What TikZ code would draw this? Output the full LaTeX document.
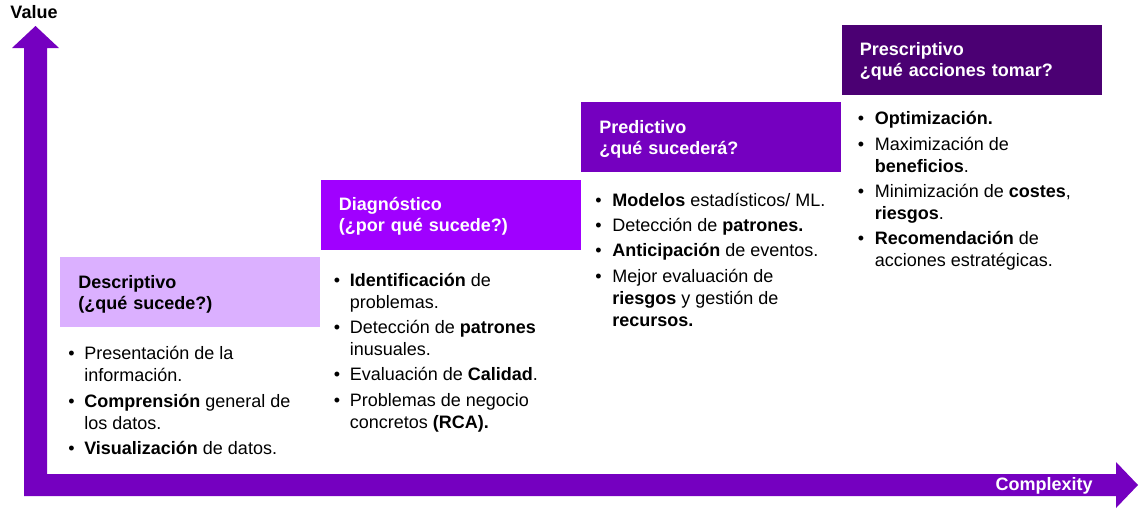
\documentclass[tikz,border=0pt]{standalone}
\usepackage{fontspec}
\setmainfont{Liberation Sans}
\usetikzlibrary{positioning}
\definecolor{axisviolet}{HTML}{7500C0}
\definecolor{stepone}{HTML}{DBB0FF}
\definecolor{steptwo}{HTML}{A000FF}
\definecolor{stepthree}{HTML}{7500C0}
\definecolor{stepfour}{HTML}{4B0073}

\begin{document}
\begin{tikzpicture}[
      x=0.75pt, y=-0.75pt,
      stepbox/.style={minimum height=52.5pt, text width=168pt, inner xsep=13.5pt, inner ysep=0pt, align=left,
        text depth=15.9pt, font=\fontsize{13.5pt}{15.75pt}\selectfont\bfseries},
      itemlist/.style={inner sep=0pt, font=\fontsize{13.5pt}{16.5pt}\selectfont},
      axislabel/.style={inner sep=0pt, font=\fontsize{13.5pt}{15.75pt}\selectfont\bfseries}]
  \useasboundingbox (0,0) rectangle (1148,511);
  \fill[axisviolet] (24,496) -- (24,48) -- (12,48) -- (35.5,26) -- (59,48) -- (47,48) -- (47,474)
    -- (1116,474) -- (1116,462) -- (1138,485) -- (1116,508) -- (1116,496) -- cycle;
  \node[axislabel] (value) at (34,12) {Value};
  \node[axislabel, text=white, anchor=east] (complexity) at (1093,486) {Complexity};

  \node[stepbox, fill=stepone, anchor=north west] (desc) at (60,257) {Descriptivo\\(¿qué sucede?)};
  \node[stepbox, fill=steptwo, text=white, above right=5.25pt and 0pt of desc.north east] (diag)
    {Diagnóstico\\(¿por qué sucede?)};
  \node[stepbox, fill=stepthree, text=white, above right=5.25pt and 0pt of diag.north east] (pred)
    {Predictivo\\¿qué sucederá?};
  \node[stepbox, fill=stepfour, text=white, above right=5.25pt and 0pt of pred.north east] (presc)
    {Prescriptivo\\¿qué acciones tomar?};

  \node[itemlist, below right=12.45pt and 6pt of desc.south west] (desclist) {\begin{tabular}{@{}p{12pt}@{}l@{}}
    \textbullet & Presentación de la\\
                & información.\\[2.5pt]
    \textbullet & \textbf{Comprensión} general de\\
                & los datos.\\[2.5pt]
    \textbullet & \textbf{Visualización} de datos.
  \end{tabular}};
  \node[itemlist, below right=15.45pt and 9.75pt of diag.south west] (diaglist) {\begin{tabular}{@{}p{12pt}@{}l@{}}
    \textbullet & \textbf{Identificación} de\\
                & problemas.\\[2.5pt]
    \textbullet & Detección de \textbf{patrones}\\
                & inusuales.\\[2.5pt]
    \textbullet & Evaluación de \textbf{Calidad}.\\[2.5pt]
    \textbullet & Problemas de negocio\\
                & concretos \textbf{(RCA).}
  \end{tabular}};
  \node[itemlist, below right=13.6pt and 10.5pt of pred.south west] (predlist) {\begin{tabular}{@{}p{12.75pt}@{}l@{}}
    \textbullet & \textbf{Modelos} estadísticos/ ML.\\[2.5pt]
    \textbullet & Detección de \textbf{patrones.}\\[2.5pt]
    \textbullet & \textbf{Anticipación} de eventos.\\[2.5pt]
    \textbullet & Mejor evaluación de\\
                & \textbf{riesgos} y gestión de\\
                & \textbf{recursos.}
  \end{tabular}};
  \node[itemlist, below right=10.6pt and 12pt of presc.south west] (presclist) {\begin{tabular}{@{}p{12.75pt}@{}l@{}}
    \textbullet & \textbf{Optimización.}\\[2.5pt]
    \textbullet & Maximización de\\
                & \textbf{beneficios}.\\[2.5pt]
    \textbullet & Minimización de \textbf{costes},\\
                & \textbf{riesgos}.\\[2.5pt]
    \textbullet & \textbf{Recomendación} de\\
                & acciones estratégicas.
  \end{tabular}};
\end{tikzpicture}
\end{document}
